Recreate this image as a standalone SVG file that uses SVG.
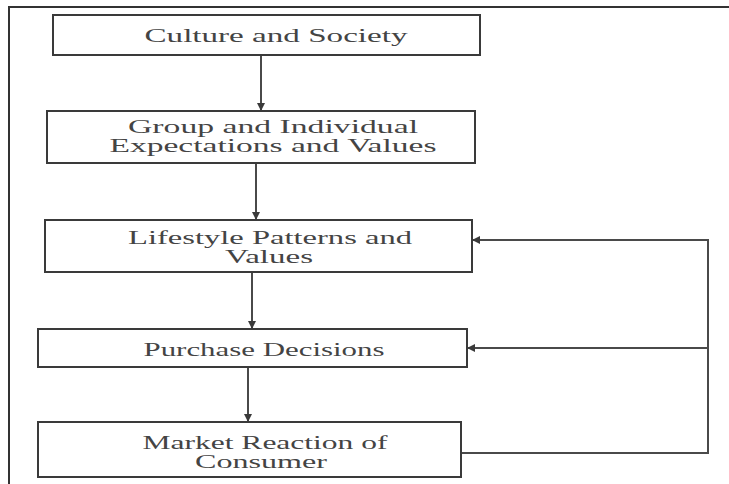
<svg xmlns="http://www.w3.org/2000/svg" width="729" height="484" viewBox="0 0 729 484">
<defs>
<style>
.box{fill:#fff;stroke:#3a3a3a;stroke-width:2}
.lbl{font-family:"Liberation Serif","DejaVu Serif",serif;font-size:18.5px;fill:#444;text-anchor:middle;dominant-baseline:central}
.con{fill:none;stroke:#4a4a4a;stroke-width:2}
.frame{fill:none;stroke:#333;stroke-width:2}
</style>
<marker id="ah" viewBox="0 0 10 10" refX="10" refY="5" markerWidth="4" markerHeight="4" orient="auto">
<path d="M0,0 L10,5 L0,10 z" fill="#3a3a3a"/>
</marker>
</defs>
<rect width="729" height="484" fill="#fff"/>
<path class="frame" d="M9,484 V7 H729"/>
<g id="connectors">
<line class="con" x1="261" y1="55" x2="261" y2="111" marker-end="url(#ah)"/>
<line class="con" x1="256" y1="163" x2="256" y2="220" marker-end="url(#ah)"/>
<line class="con" x1="252" y1="272" x2="252" y2="329" marker-end="url(#ah)"/>
<line class="con" x1="248" y1="367" x2="248" y2="422" marker-end="url(#ah)"/>
<polyline class="con" points="461,453 708,453 708,240 472,240" marker-end="url(#ah)"/>
<polyline class="con" points="708,348 467,348" marker-end="url(#ah)"/>
</g>
<g id="n1"><rect class="box" x="53" y="15" width="427" height="40"/><text class="lbl" x="276" y="36" textLength="263" lengthAdjust="spacingAndGlyphs">Culture and Society</text></g>
<g id="n2"><rect class="box" x="47" y="111" width="428" height="52"/><text class="lbl" x="273" y="127" textLength="290" lengthAdjust="spacingAndGlyphs">Group and Individual</text><text class="lbl" x="273" y="146" textLength="327" lengthAdjust="spacingAndGlyphs">Expectations and Values</text></g>
<g id="n3"><rect class="box" x="45" y="220" width="427" height="52"/><text class="lbl" x="270" y="238" textLength="284" lengthAdjust="spacingAndGlyphs">Lifestyle Patterns and</text><text class="lbl" x="269" y="257" textLength="88" lengthAdjust="spacingAndGlyphs">Values</text></g>
<g id="n4"><rect class="box" x="38" y="329" width="429" height="38"/><text class="lbl" x="264" y="350" textLength="241" lengthAdjust="spacingAndGlyphs">Purchase Decisions</text></g>
<g id="n5"><rect class="box" x="38" y="422" width="423" height="55"/><text class="lbl" x="265" y="443" textLength="245" lengthAdjust="spacingAndGlyphs">Market Reaction of</text><text class="lbl" x="261" y="462" textLength="132" lengthAdjust="spacingAndGlyphs">Consumer</text></g>
</svg>
